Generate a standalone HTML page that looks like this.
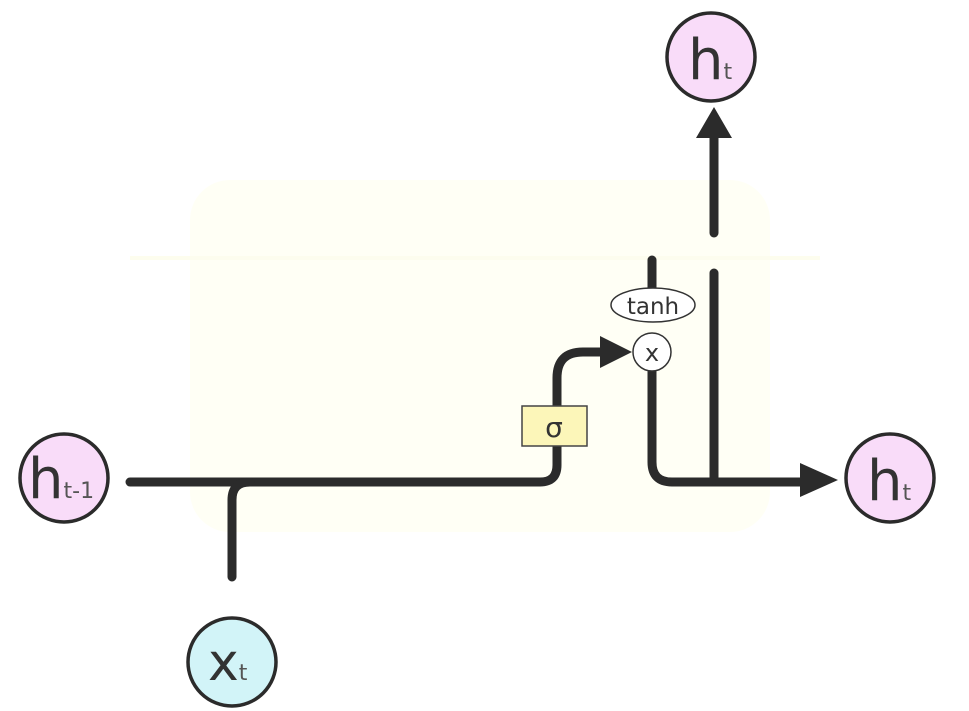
<!DOCTYPE html>
<html><head><meta charset="utf-8"><style>
html,body{margin:0;padding:0;background:#fff;width:969px;height:711px;overflow:hidden}
svg{display:block}
text{font-family:"DejaVu Sans","Liberation Sans",sans-serif;fill:#333}
</style></head><body>
<svg width="969" height="711" viewBox="0 0 969 711">
<rect x="190" y="180" width="580" height="352" rx="40" fill="#fffff5"/>
<line x1="130" y1="258" x2="820" y2="258" stroke="#fdfdee" stroke-width="4"/>
<g fill="none" stroke="#2b2b2b" stroke-width="9" stroke-linecap="round">
<path d="M130 482 H540 Q557 482 557 465 V378 Q557 352 583 352 H604"/>
<path d="M232 577 V500 Q232 482 250 482"/>
<path d="M652 260 V290"/>
<path d="M652 372 V462 Q652 482 672 482 H805"/>
<path d="M714 273 V480"/>
<path d="M714 233 V136"/>
</g>
<polygon points="600,336 632,352 600,368" fill="#2b2b2b"/>
<polygon points="800,463 838,480 800,497" fill="#2b2b2b"/>
<polygon points="696,138 714,107 732,138" fill="#2b2b2b"/>
<rect x="522" y="406" width="65" height="40" fill="#fcf6b9" stroke="#444" stroke-width="1.5"/>
<text x="554" y="437" font-size="28" text-anchor="middle">σ</text>
<ellipse cx="653" cy="305" rx="42" ry="17" fill="#fff" stroke="#333" stroke-width="1.5"/>
<text x="653" y="314" font-size="23" text-anchor="middle">tanh</text>
<circle cx="652" cy="352" r="19" fill="#fff" stroke="#333" stroke-width="1.5"/>
<text x="652" y="361" font-size="24" text-anchor="middle">x</text>
<circle cx="64" cy="478" r="44" fill="#f9dcf9" stroke="#2b2b2b" stroke-width="3.5"/>
<text x="28" y="498" font-size="56">h<tspan font-size="22" fill="#555">t-1</tspan></text>
<circle cx="232" cy="662" r="44" fill="#d2f4f8" stroke="#2b2b2b" stroke-width="3.5"/>
<text x="208" y="680" font-size="52">x<tspan font-size="22" fill="#555">t</tspan></text>
<circle cx="711" cy="57" r="44" fill="#f9dcf9" stroke="#2b2b2b" stroke-width="3.5"/>
<text x="688" y="79" font-size="56">h<tspan font-size="22" fill="#555">t</tspan></text>
<circle cx="890" cy="478" r="44" fill="#f9dcf9" stroke="#2b2b2b" stroke-width="3.5"/>
<text x="867" y="500" font-size="56">h<tspan font-size="22" fill="#555">t</tspan></text>
</svg>
</body></html>
